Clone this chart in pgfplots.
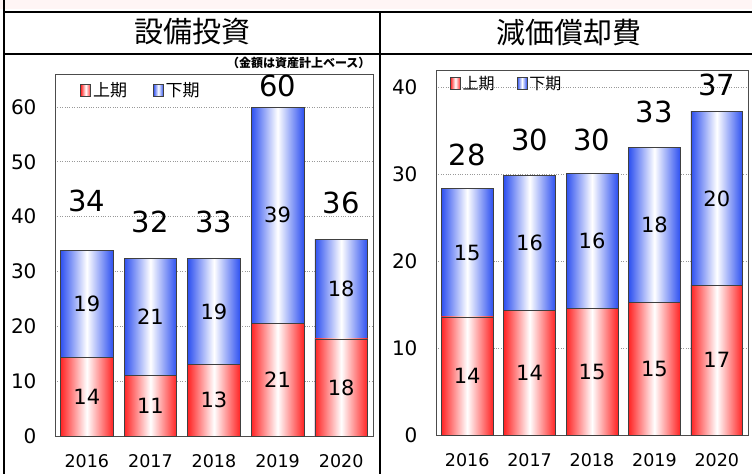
\documentclass[border=0pt]{standalone}
\usepackage{fontspec}
\setmainfont{DejaVu Sans}
\newfontfamily\jp{Noto Sans CJK JP}
\usepackage{pgfplots}
\usepackage{pgfplotstable}
\pgfplotsset{compat=1.18}

\definecolor{barred}{RGB}{255,35,35}
\definecolor{barblue}{RGB}{45,80,240}

% left panel: 設備投資  (low = 上期, top = 上期+下期)
\pgfplotstableread{
x low top lablow labtop
0 14.4 33.8 14 19
1 11.0 32.4 11 21
2 13.0 32.4 13 19
3 20.6 59.9 21 39
4 17.7 35.8 18 18
}\capT
% right panel: 減価償却費
\pgfplotstableread{
x low top lablow labtop
0 13.6 28.4 14 15
1 14.3 29.9 14 16
2 14.6 30.1 15 16
3 15.3 33.1 15 18
4 17.2 37.2 17 20
}\depT

\pgfplotsset{
  redbar/.style={draw=black!75, line width=0.6pt, left color=barred, right color=barred, middle color=white},
  bluebar/.style={draw=black!75, line width=0.6pt, left color=barblue, right color=barblue, middle color=white},
  panel/.style={
    anchor=south west, scale only axis,
    ybar, bar shift=0pt, bar width=0.83,
    xmin=-0.5, xmax=4.5, ymin=0,
    xtick={0,...,4}, xticklabels={2016,2017,2018,2019,2020},
    major tick length=0pt,
    ymajorgrids, grid style={dotted, black!40, line width=0.7pt},
    axis line style={black!70, line width=0.8pt},
    /pgf/number format/assume math mode=true,
    xticklabel style={font=\fontsize{17.5}{19}\selectfont, yshift=-15pt},
    yticklabel style={font=\fontsize{20}{22}\selectfont, xshift=-15pt},
    point meta=explicit symbolic,
    nodes near coords,
    legend image code/.code={\draw[##1,/tikz/.cd] (0pt,-6pt) rectangle (10pt,6pt);},
    clip=false,
  },
  lowlab/.style={
    visualization depends on=y \as \rawy,
    every node near coord/.append style={font=\fontsize{21}{23}\selectfont, anchor=center,
      shift={(axis direction cs:0,{-\rawy/2})}},
  },
  toplab/.style={
    visualization depends on=y \as \rawy,
    visualization depends on=\thisrow{low} \as \low,
    every node near coord/.append style={font=\fontsize{21}{23}\selectfont, anchor=center,
      shift={(axis direction cs:0,{-(\rawy-\low)/2})}},
  },
}

\begin{document}
\begin{tikzpicture}[x=1pt,y=1pt]
\useasboundingbox (0,0) rectangle (752,474);
\fill[red!4] (0,465) rectangle (752,474);
% frame
\draw[line width=2pt] (4,474) -- (4,462) -- (752,462);
\draw[line width=1.5pt] (4,420) -- (752,420);
\draw[line width=1.5pt] (380,462) -- (380,0);
\draw[line width=2pt] (4,462) -- (4,0);
\node[font=\jp\fontsize{29}{32}\selectfont] at (192,442) {設備投資};
\node[font=\jp\fontsize{29}{32}\selectfont] at (569,441) {減価償却費};
\node[font=\jp\bfseries\fontsize{12}{14}\selectfont, anchor=east] at (374,411) {（金額は資産計上ベース）};

\begin{axis}[panel, at={(55pt,38pt)}, width=318pt, height=362pt,
  ymax=66, ytick={0,10,...,60},
  legend style={at={(0.07,0.987)}, anchor=north west, draw=none, fill=none,
    legend columns=2, font=\jp\fontsize{17}{19}\selectfont,
    /tikz/every even column/.append style={column sep=24pt}},
]
\pgfplotsinvokeforeach{0,...,4}{
  \addplot[bluebar, toplab, forget plot, x filter/.expression={x==#1 ? x : nan}]
    table[x=x, y=top, meta=labtop] {\capT};
  \addplot[redbar, lowlab, forget plot, x filter/.expression={x==#1 ? x : nan}]
    table[x=x, y=low, meta=lablow] {\capT};
}
\addlegendimage{redbar}\addlegendentry{上期}
\addlegendimage{bluebar}\addlegendentry{下期}
\node[font=\fontsize{29}{32}\selectfont] at (axis cs:0,42.9) {34};
\node[font=\fontsize{29}{32}\selectfont] at (axis cs:1,39) {32};
\node[font=\fontsize{29}{32}\selectfont] at (axis cs:2,39) {33};
\node[font=\fontsize{29}{32}\selectfont] at (axis cs:3,63.9) {60};
\node[font=\fontsize{29}{32}\selectfont] at (axis cs:4,42.5) {36};
\end{axis}

\begin{axis}[panel, at={(436pt,39pt)}, width=312pt, height=365pt,
  ymax=42, ytick={0,10,...,40},
  legend style={at={(0.035,0.995)}, anchor=north west, draw=none, fill=none,
    legend columns=2, font=\jp\fontsize{16}{18}\selectfont,
    /tikz/every even column/.append style={column sep=20pt}},
]
\pgfplotsinvokeforeach{0,...,4}{
  \addplot[bluebar, toplab, forget plot, x filter/.expression={x==#1 ? x : nan}]
    table[x=x, y=top, meta=labtop] {\depT};
  \addplot[redbar, lowlab, forget plot, x filter/.expression={x==#1 ? x : nan}]
    table[x=x, y=low, meta=lablow] {\depT};
}
\addlegendimage{redbar}\addlegendentry{上期}
\addlegendimage{bluebar}\addlegendentry{下期}
\node[font=\fontsize{29}{32}\selectfont] at (axis cs:0,32.2) {28};
\node[font=\fontsize{29}{32}\selectfont] at (axis cs:1,34.0) {30};
\node[font=\fontsize{29}{32}\selectfont] at (axis cs:2,34.0) {30};
\node[font=\fontsize{29}{32}\selectfont] at (axis cs:3,37.2) {33};
\node[font=\fontsize{29}{32}\selectfont] at (axis cs:4,40.3) {37};
\end{axis}
\end{tikzpicture}
\end{document}
